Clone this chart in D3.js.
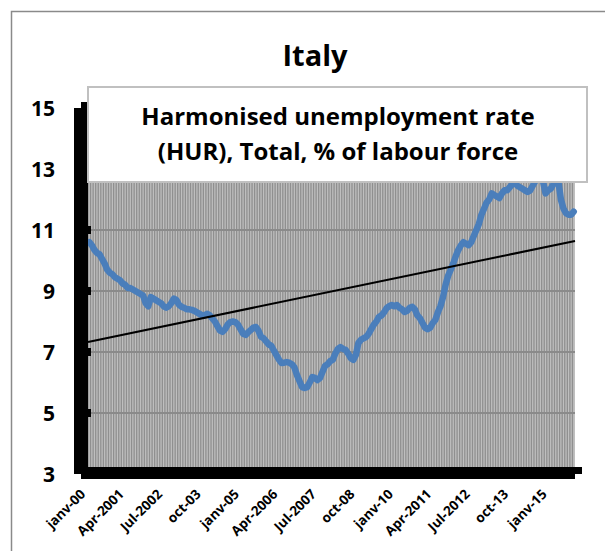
<!DOCTYPE html>
<html><head><meta charset="utf-8">
<script src="https://cdn.jsdelivr.net/npm/d3@7"></script>
<style>body{margin:0;background:#fff}svg{display:block}</style>
</head><body>
<svg id="c" width="605" height="551"></svg>
<script>
// Monthly HUR, Italy, Jan 2000 - Oct 2015
const hur2000 = [10.6,10.5,10.35,10.25,10.2,10.05,9.9,9.7,9.6,9.55,9.45,9.4];
const hur2001 = [9.35,9.25,9.2,9.1,9.1,9.05,9.0,8.95,8.9,8.85,8.6,8.5];
const hur2002 = [8.8,8.75,8.7,8.65,8.6,8.5,8.45,8.5,8.6,8.75,8.7,8.55];
const hur2003 = [8.48,8.45,8.4,8.4,8.38,8.35,8.3,8.25,8.2,8.2,8.25,8.2];
const hur2004 = [8.1,8.0,7.85,7.7,7.66,7.75,7.9,7.98,8.0,7.98,7.9,7.75];
const hur2005 = [7.6,7.56,7.65,7.72,7.8,7.82,7.7,7.5,7.45,7.35,7.25,7.2];
const hur2006 = [7.05,6.9,6.75,6.64,6.65,6.67,6.65,6.6,6.5,6.25,6.05,5.85];
const hur2007 = [5.82,5.85,6.0,6.18,6.15,6.08,6.15,6.35,6.55,6.6,6.7,6.75];
const hur2008 = [6.95,7.1,7.16,7.1,7.07,6.95,6.8,6.74,6.9,7.3,7.4,7.45];
const hur2009 = [7.49,7.6,7.75,7.9,8.0,8.15,8.2,8.3,8.44,8.5,8.54,8.5];
const hur2010 = [8.54,8.45,8.4,8.31,8.35,8.45,8.48,8.4,8.2,8.11,7.95,7.8];
const hur2011 = [7.75,7.8,7.95,8.05,8.3,8.5,8.8,9.2,9.5,9.7,9.9,10.15];
const hur2012 = [10.35,10.5,10.6,10.55,10.5,10.6,10.8,11.0,11.2,11.5,11.7,11.9];
const hur2013 = [12.0,12.2,12.15,12.1,12.05,12.2,12.3,12.3,12.4,12.5,12.55,12.45];
const hur2014 = [12.4,12.35,12.3,12.25,12.3,12.45,12.6,12.9,12.9,12.6,12.2,12.3];
const hur2015 = [12.35,12.5,12.7,12.6,12.0,11.7,11.55,11.5,11.5,11.6];
const values = [].concat(hur2000,hur2001,hur2002,hur2003,hur2004,hur2005,hur2006,hur2007,
  hur2008,hur2009,hur2010,hur2011,hur2012,hur2013,hur2014,hur2015);
const categories = values.map((v,i)=>i);
// Tick labels shown every 15 months
const tickIndex = [0,15,30,45,60,75,90,105,120,135,150,165,180];
const tickLabels = ["janv-00","Apr-2001","Jul-2002","oct-03","janv-05","Apr-2006","Jul-2007",
  "oct-08","janv-10","Apr-2011","Jul-2012","oct-13","janv-15"];
const yTicks = [3,5,7,9,11,13,15];
const trend = [7.33,10.64]; // linear trend start / end
const title = "Italy";
const legendLines = ["Harmonised unemployment rate","(HUR), Total, % of labour force"];

const svg = d3.select("#c");
const font = "'Open Sans', Lato, sans-serif";
const L=88,R=575,T=108,B=474;
const x = d3.scaleBand().domain(categories).range([L,R]);
const y = d3.scaleLinear().domain([3,15]).range([B,T]);

// outer frame
svg.append("rect").attr("x",11.5).attr("y",11.5).attr("width",700).attr("height",700)
  .attr("fill","none").attr("stroke","#8a8a8a").attr("stroke-width",1.5);

// plot background
svg.append("rect").attr("x",L).attr("y",T).attr("width",R-L).attr("height",B-T).attr("fill","#bfbfbf");
// vertical gridlines (one per category)
svg.append("g").selectAll("line").data(categories).join("line")
  .attr("x1",d=>x(d)).attr("x2",d=>x(d)).attr("y1",T).attr("y2",B)
  .attr("stroke","#8f8f8f").attr("stroke-width",1.3);
// horizontal gridlines
svg.append("g").selectAll("line").data(yTicks.slice(1)).join("line")
  .attr("x1",L).attr("x2",R).attr("y1",d=>y(d)).attr("y2",d=>y(d))
  .attr("stroke","#8a8a8a").attr("stroke-width",2);

// data line
const line = d3.line().x((d,i)=>x(i)+x.bandwidth()/2).y(d=>y(d));
svg.append("path").datum(values).attr("d",line).attr("fill","none")
  .attr("stroke","#4a7ebb").attr("stroke-width",6.5).attr("stroke-linejoin","round").attr("stroke-linecap","round");

// trend line
svg.append("line").attr("x1",L).attr("x2",R).attr("y1",y(trend[0])).attr("y2",y(trend[1]))
  .attr("stroke","#000").attr("stroke-width",2);

// axes (thick black with offset shadow)
svg.append("rect").attr("x",L-14).attr("y",T).attr("width",8).attr("height",B-T).attr("fill","#000");
svg.append("rect").attr("x",L-7).attr("y",T-6).attr("width",7).attr("height",B-T).attr("fill","#000");
svg.append("rect").attr("x",L-14).attr("y",B-7).attr("width",R-L+21).attr("height",7).attr("fill","#000");
svg.append("rect").attr("x",L-7).attr("y",B-1).attr("width",R-L+7).attr("height",6).attr("fill","#000");
// small y ticks
svg.append("g").selectAll("rect").data(yTicks.slice(1)).join("rect")
  .attr("x",L).attr("y",d=>y(d)-4).attr("width",3).attr("height",8).attr("fill","#000");

// y labels
svg.append("g").selectAll("text").data(yTicks).join("text")
  .attr("x",55).attr("y",d=>y(d)).attr("dy","0.36em").attr("text-anchor","end")
  .attr("font-family",font).attr("font-weight","bold").attr("font-size",21).text(d=>d);

// x labels
svg.append("g").selectAll("text").data(tickIndex).join("text")
  .attr("transform",d=>`translate(${x(d)+x.bandwidth()/2-3},${495}) rotate(-45)`)
  .attr("text-anchor","end").attr("font-family",font).attr("font-weight","bold").attr("font-size",13.5)
  .text((d,i)=>tickLabels[i]);

// legend / subtitle box
svg.append("rect").attr("x",88).attr("y",87).attr("width",499).attr("height",95)
  .attr("fill","#fff").attr("stroke","#c0c0c0").attr("stroke-width",2);
svg.append("g").selectAll("text").data(legendLines).join("text")
  .attr("x",338).attr("y",(d,i)=>125+i*35).attr("text-anchor","middle")
  .attr("font-family",font).attr("font-weight","bold").attr("font-size",24).text(d=>d);

// title
svg.append("text").attr("x",315).attr("y",66).attr("text-anchor","middle")
  .attr("font-family",font).attr("font-weight","bold").attr("font-size",29).text(title);
</script>
</body></html>
